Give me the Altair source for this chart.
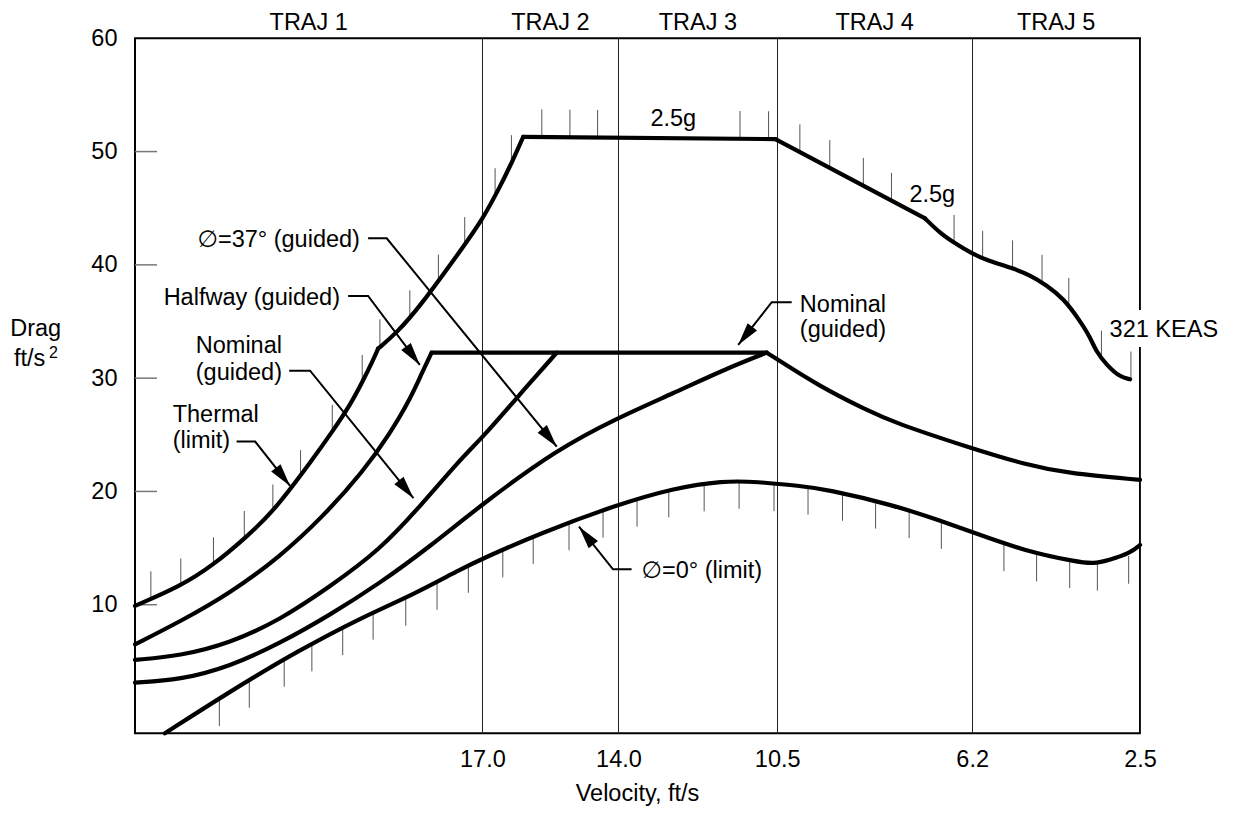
import altair as alt
import pandas as pd

FONT = "Liberation Sans, DejaVu Sans, sans-serif"
FS = 23.5

# ---------------- axes / domains ----------------
X_DOMAIN = [24.66, 2.5]          # velocity decreases to the right
Y_DOMAIN = [-1.35, 60.0]
vel_ticks = [17.0, 14.0, 10.5, 6.2, 2.5]
drag_ticks = [10, 20, 30, 40, 50, 60]
drag_inner_ticks = [10, 20, 30, 40, 50]

traj_names = ["TRAJ 1", "TRAJ 2", "TRAJ 3", "TRAJ 4", "TRAJ 5"]
traj_centers = [20.83, 15.5, 12.25, 8.35, 4.35]

# ---------------- curves (velocity, drag) ----------------
# upper boundary: thermal limit
thermal_v = [24.66, 23.67, 22.93, 22.20, 21.61, 20.73, 20.29, 19.92, 19.63, 19.41, 19.30]
thermal_d = [9.9, 11.6, 13.5, 16.0, 18.2, 22.9, 25.4, 27.6, 29.8, 31.6, 32.6]
# continuation up to the 2.5g plateau
upper2_v = [19.30, 18.89, 18.38, 17.42, 17.00, 16.61, 16.32, 16.10]
upper2_d = [32.6, 34.0, 36.3, 41.6, 44.0, 46.9, 49.3, 51.3]
# 2.5g plateau
plateau_v = [16.10, 10.54]
plateau_d = [51.3, 51.1]
# 2.5g descending
g25_v = [10.54, 7.24]
g25_d = [51.1, 44.1]
# to 321 KEAS
keas_v = [7.24, 6.91, 6.58, 6.21, 5.88, 5.30, 4.93, 4.56, 4.19, 3.83, 3.61, 3.46, 3.24, 2.95, 2.72]
keas_d = [44.1, 42.8, 41.9, 41.0, 40.4, 39.7, 39.1, 38.2, 37.05, 35.1, 33.7, 32.3, 31.2, 30.1, 29.9]

# guided trajectories
halfway_v = [24.66, 23.67, 22.57, 21.46, 20.51, 19.63, 19.04, 18.60, 18.34, 18.12]
halfway_d = [6.5, 8.5, 11.0, 14.25, 17.8, 21.75, 25.1, 28.1, 30.4, 32.25]
nominal_v = [24.66, 23.67, 22.57, 21.46, 20.36, 19.26, 18.38, 17.50, 16.98, 16.25, 15.36]
nominal_d = [5.13, 5.48, 6.6, 8.66, 11.6, 14.84, 18.66, 22.78, 24.84, 28.23, 32.25]
phi37_v = [24.66, 23.67, 22.57, 21.46, 20.36, 19.26, 18.16, 16.98, 15.36, 14.04, 12.79, 11.69, 10.73]
phi37_d = [3.12, 3.36, 4.54, 6.6, 9.1, 11.9, 15.13, 18.96, 23.7, 26.46, 28.67, 30.72, 32.25]
guided_flat_v = [18.12, 10.73]
guided_flat_d = [32.25, 32.25]
guided_desc_v = [10.73, 9.56, 8.53, 7.94, 6.22, 5.00, 4.12, 2.5]
guided_desc_d = [32.25, 29.25, 27.19, 26.1, 23.81, 22.34, 21.61, 21.02]

# lower boundary: phi = 0 deg limit
phi0_v = [24.0, 22.57, 21.10, 19.63, 18.52, 17.50, 16.98, 15.73, 14.04, 12.79, 11.69, 10.95,
          10.0, 9.41, 7.94, 6.84, 6.23, 5.00, 3.90, 3.53, 3.17, 2.72, 2.5]
phi0_d = [-1.35, 2.33, 5.86, 8.95, 10.9, 13.1, 14.1, 16.31, 18.81, 20.28, 20.95, 20.86,
          20.49, 20.19, 18.81, 17.33, 16.45, 14.69, 13.8, 13.6, 13.95, 14.55, 15.28]

# hatch ticks (upper boundary: ticks go up; lower boundary: ticks go down)
hatch_up_v = [24.31, 23.65, 22.93, 22.25, 21.62, 21.01, 20.31, 19.65, 19.26, 18.60, 17.97, 17.39,
              16.72, 16.36, 15.69, 15.07, 14.46, 11.32, 10.69, 10.0, 9.34, 8.60, 7.98, 6.60,
              5.97, 5.31, 4.66, 4.07, 3.35, 2.70]
hatch_up_d = [10.5, 11.63, 13.5, 15.83, 18.16, 21.2, 25.2, 29.6, 32.74, 35.3, 38.46, 41.77,
              46.08, 49.0, 51.28, 51.25, 51.22, 51.13, 51.11, 49.96, 48.56, 46.99, 45.67, 41.95,
              40.56, 39.71, 38.44, 36.4, 31.75, 29.9]
hatch_dn_v = [22.80, 22.14, 21.37, 20.76, 20.08, 19.41, 18.69, 18.00, 17.31, 16.55, 15.88, 15.09,
              14.34, 13.59, 12.89, 12.11, 11.34, 10.57, 9.82, 9.06, 8.33, 7.59, 6.88, 5.50,
              4.78, 4.05, 3.44, 2.75]
hatch_dn_d = [1.74, 3.36, 5.21, 6.57, 8.0, 9.36, 10.6, 12.0, 13.5, 14.86, 16.05, 17.26,
              18.37, 19.34, 20.17, 20.69, 20.92, 20.71, 20.4, 19.86, 19.17, 18.34, 17.38, 15.41,
              14.51, 13.92, 13.69, 14.3]
HATCH_LEN = 2.45

# annotations
ann_right_t = ["\u2205=37\u00b0 (guided)", "Halfway (guided)"]
ann_right_v = [19.70, 20.14]
ann_right_d = [41.62, 36.46]
ann_left_t = ["Nominal", "(guided)", "Thermal", "(limit)", "Nominal", "(guided)",
              "\u2205=0\u00b0 (limit)", "321 KEAS"]
ann_left_v = [23.32, 23.32, 23.83, 23.83, 10.0, 10.0, 13.49, 3.17]
ann_left_d = [32.2, 29.84, 26.16, 23.81, 35.8, 33.66, 12.34, 33.66]
ann_center_t = ["2.5g", "2.5g"]
ann_center_v = [12.79, 7.08]
ann_center_d = [52.26, 45.58]

leader_37_v, leader_37_d = [19.52, 19.11, 15.36], [42.35, 42.35, 23.95]
leader_half_v, leader_half_d = [19.96, 19.52, 18.38], [37.25, 37.25, 31.17]
leader_noml_v, leader_noml_d = [21.26, 20.80, 18.52], [30.66, 30.66, 19.4]
leader_therm_v, leader_therm_d = [22.42, 22.01, 21.24], [24.4, 24.4, 20.49]
leader_nomr_v, leader_nomr_d = [10.18, 10.62, 11.36], [36.7, 36.7, 32.93]
leader_zero_v, leader_zero_d = [13.71, 14.12, 14.87], [13.13, 13.13, 16.89]
arrow_angles = [140.8, 143.2, 140.8, 141.7, 218.0, 321.4]

keas_box_v, keas_box_v2 = [3.28], [0.63]
keas_box_d, keas_box_d2 = [36.02], [32.75]

# ---------------- build tables ----------------
segments = {
    "thermal": (thermal_v, thermal_d), "upper2": (upper2_v, upper2_d),
    "plateau": (plateau_v, plateau_d), "g25": (g25_v, g25_d), "keas": (keas_v, keas_d),
    "halfway": (halfway_v, halfway_d), "nominal": (nominal_v, nominal_d),
    "phi37": (phi37_v, phi37_d), "gflat": (guided_flat_v, guided_flat_d),
    "gdesc": (guided_desc_v, guided_desc_d), "phi0": (phi0_v, phi0_d),
}
rows = []
for name, (vs, ds) in segments.items():
    for i, (v, d) in enumerate(zip(vs, ds)):
        rows.append({"seg": name, "i": i, "v": v, "d": d})
curves = pd.DataFrame(rows)

hrows = [{"v": v, "d": d, "d2": d + HATCH_LEN} for v, d in zip(hatch_up_v, hatch_up_d)]
hrows += [{"v": v, "d": d, "d2": d - HATCH_LEN} for v, d in zip(hatch_dn_v, hatch_dn_d)]
hatch = pd.DataFrame(hrows)

leaders = [(leader_37_v, leader_37_d), (leader_half_v, leader_half_d),
           (leader_noml_v, leader_noml_d), (leader_therm_v, leader_therm_d),
           (leader_nomr_v, leader_nomr_d), (leader_zero_v, leader_zero_d)]
lrows, arows = [], []
for k, ((vs, ds), ang) in enumerate(zip(leaders, arrow_angles)):
    for i, (v, d) in enumerate(zip(vs, ds)):
        lrows.append({"id": k, "i": i, "v": v, "d": d})
    arows.append({"v": vs[-1], "d": ds[-1], "ang": ang})
leader_df = pd.DataFrame(lrows)
arrow_df = pd.DataFrame(arows)

x_scale = alt.Scale(domain=X_DOMAIN, nice=False, zero=False)
y_scale = alt.Scale(domain=Y_DOMAIN, nice=False, zero=False)
x_axis = alt.Axis(values=vel_ticks, format=".1f", title=None, grid=True, gridColor="#222",
                  gridWidth=1, ticks=False, tickSize=0, domain=False, labelFont=FONT,
                  labelFontSize=FS, labelColor="black", labelPadding=14, labelFlush=False,
                  labelOverlap=False)
y_axis = alt.Axis(values=drag_ticks, title=None, grid=False, ticks=False, tickSize=0,
                  domain=False, labelFont=FONT, labelFontSize=FS, labelColor="black",
                  labelPadding=18, labelFlush=False, labelOverlap=False)
X = alt.X("v:Q", scale=x_scale, axis=x_axis)
Y = alt.Y("d:Q", scale=y_scale, axis=y_axis)

hatch_layer = alt.Chart(hatch).mark_rule(color="#555", strokeWidth=1).encode(
    x=X, y=Y, y2="d2:Q")

ytick_layer = alt.Chart(pd.DataFrame({"d": drag_inner_ticks})).mark_rule(
    color="#777", strokeWidth=1.5).encode(y=Y, x=alt.value(0), x2=alt.value(22))

curve_layer = alt.Chart(curves).mark_line(
    interpolate="basis", color="black", strokeWidth=4.2, strokeCap="round",
    strokeJoin="round").encode(x=X, y=Y, detail="seg:N", order="i:Q")

leader_layer = alt.Chart(leader_df).mark_line(color="black", strokeWidth=2).encode(
    x=X, y=Y, detail="id:N", order="i:Q")

arrow_layer = alt.Chart(arrow_df).mark_point(
    shape="M0,0L0.52,2L-0.52,2Z", filled=True, size=529, color="black", opacity=1,
    strokeWidth=0).encode(x=X, y=Y, angle=alt.Angle("ang:Q", scale=None))

box_layer = alt.Chart(pd.DataFrame({"v": keas_box_v, "v2": keas_box_v2, "d": keas_box_d,
                                    "d2": keas_box_d2})).mark_rect(color="white").encode(
    x=X, x2="v2:Q", y=Y, y2="d2:Q")

def text_layer(ts, vs, ds, align):
    df = pd.DataFrame({"t": ts, "v": vs, "d": ds})
    return alt.Chart(df).mark_text(font=FONT, fontSize=FS, color="black", align=align,
                                   baseline="alphabetic").encode(x=X, y=Y, text="t:N")

txt_r = text_layer(ann_right_t, ann_right_v, ann_right_d, "right")
txt_l = text_layer(ann_left_t, ann_left_v, ann_left_d, "left")
txt_c = text_layer(ann_center_t, ann_center_v, ann_center_d, "center")

traj_layer = alt.Chart(pd.DataFrame({"t": traj_names, "v": traj_centers})).mark_text(
    font=FONT, fontSize=FS, color="black", align="center", baseline="alphabetic").encode(
    x=X, y=alt.value(-8.5), text="t:N")

def fixed_text(t, px, py, align="center", size=FS):
    return alt.Chart(pd.DataFrame({"t": [t]})).mark_text(
        font=FONT, fontSize=size, color="black", align=align, baseline="alphabetic").encode(
        x=alt.value(px), y=alt.value(py), text="t:N")

xtitle = fixed_text("Velocity, ft/s", 502.5, 762.7)
ytitle1 = fixed_text("Drag", -99.3, 297.7)
ytitle2 = fixed_text("ft/s", -121, 327.7, align="left")
ytitle_sup = fixed_text("2", -86, 320, align="left", size=16)

chart = alt.layer(
    hatch_layer, ytick_layer, curve_layer, leader_layer, arrow_layer, box_layer,
    txt_r, txt_l, txt_c, traj_layer, xtitle, ytitle1, ytitle2, ytitle_sup
).properties(
    width=1005, height=695,
    autosize=alt.AutoSizeParams(type="none"),
    padding={"left": 127, "top": 30.3, "right": 85, "bottom": 72.7},
).configure_view(stroke="black", strokeWidth=2)

chart.save("out.html", embed_options={"renderer": "svg", "actions": False})
